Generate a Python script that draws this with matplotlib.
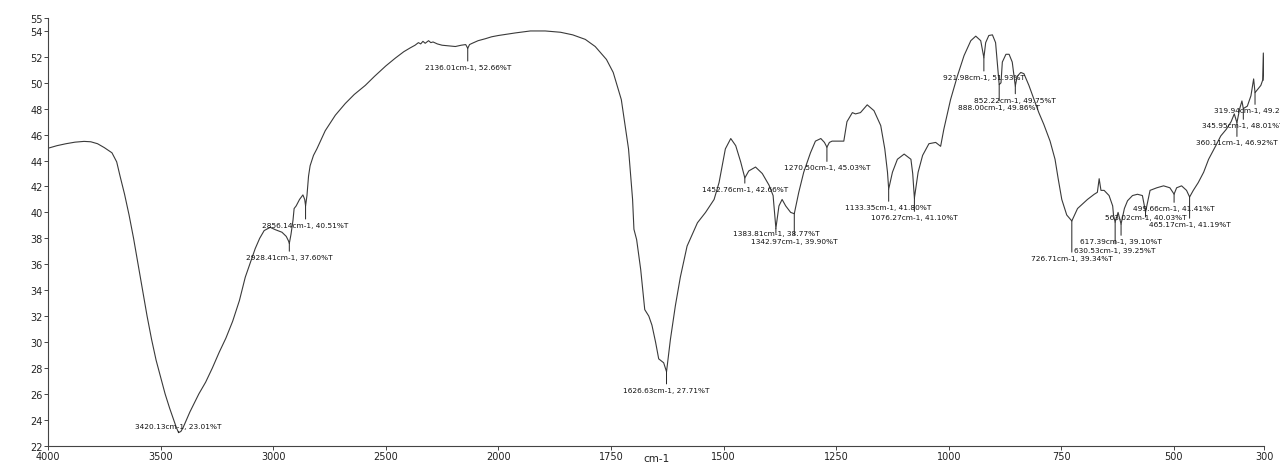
import matplotlib
matplotlib.use("Agg")
import matplotlib.pyplot as plt
import numpy as np

# FTIR transmittance spectrum (wavenumber in cm-1, %T)
wavenumber = [
    4000, 3960, 3920, 3880, 3840, 3810, 3780, 3750, 3716, 3695, 3680, 3660, 3640, 3620,
    3600, 3580, 3560, 3540, 3520, 3500, 3480, 3460, 3440, 3430, 3420.13, 3410, 3400, 3385,
    3370, 3350, 3330, 3300, 3270, 3240, 3210, 3180, 3150, 3124, 3100, 3080, 3060, 3040,
    3013, 2991, 2961, 2942, 2932, 2928.41, 2921, 2912, 2907, 2898, 2883, 2868, 2860, 2856.14,
    2850, 2843, 2836, 2821, 2806, 2769, 2724, 2680, 2640, 2591, 2550, 2500, 2458, 2420,
    2391, 2370, 2355, 2345, 2335, 2325, 2310, 2300, 2290, 2271, 2250, 2220, 2191, 2165,
    2145, 2136.01, 2128, 2116, 2090, 2058, 2030, 2000, 1962, 1929, 1896, 1862, 1835, 1807,
    1785, 1760, 1745, 1727, 1711, 1702, 1699, 1693, 1684, 1675, 1666, 1659, 1651, 1644,
    1633, 1626.63, 1618, 1607, 1596, 1581, 1558, 1540, 1521, 1510, 1503, 1496, 1484, 1473,
    1462, 1452.76, 1444, 1429, 1414, 1399, 1390, 1383.81, 1377, 1370, 1362, 1351, 1342.97, 1333,
    1322, 1307, 1296, 1284, 1276, 1270.50, 1265, 1259, 1248, 1233, 1226, 1214, 1207, 1196,
    1181, 1166, 1151, 1142, 1136, 1133.35, 1125, 1114, 1099, 1084, 1080, 1076.27, 1068, 1058,
    1044, 1029, 1018, 1011, 996, 981, 966, 951, 940, 929, 921.98, 918, 911, 903,
    896, 888.00, 884, 881, 873, 866, 859, 852.22, 848, 840, 833, 822, 811, 800,
    789, 775, 764, 757, 749, 738, 726.71, 714, 703, 692, 677, 670, 666, 662,
    655, 644, 636, 634, 630.53, 624, 617.39, 610, 603, 592, 581, 570, 563.02, 553,
    538, 523, 509, 499.66, 494, 483, 472, 465.17, 457, 446, 434, 423, 407, 396,
    384, 373, 366, 360.11, 354, 349, 345.95, 337, 329, 323, 319.94, 314, 307, 303,
    301.5, 300,
]
transmittance = [
    44.95, 45.15, 45.3, 45.42, 45.48, 45.45, 45.3, 45.0, 44.6, 43.9, 42.8, 41.4, 39.8, 38.0,
    36.0, 34.0, 32.0, 30.2, 28.6, 27.3, 26.0, 24.9, 23.9, 23.4, 23.01, 23.1, 23.4, 24.0,
    24.6, 25.3, 26.0, 26.9, 28.0, 29.2, 30.3, 31.6, 33.2, 35.0, 36.2, 37.2, 38.0, 38.6,
    38.85, 38.67, 38.47, 38.15, 37.8, 37.60, 38.3, 39.4, 40.3, 40.5, 41.0, 41.35, 41.0, 40.51,
    41.3, 42.8, 43.6, 44.4, 44.9, 46.3, 47.5, 48.4, 49.1, 49.8, 50.5, 51.3, 51.9, 52.4,
    52.7, 52.9, 53.1, 53.0, 53.2, 53.05, 53.25, 53.1, 53.15, 53.0, 52.9, 52.85, 52.8, 52.9,
    52.95, 52.66, 52.95, 53.05, 53.25, 53.4, 53.55, 53.65, 53.85, 54.0, 54.0, 53.9, 53.7, 53.35,
    52.8, 51.8, 50.8, 48.7, 44.9, 41.0, 38.7, 37.9, 35.6, 32.5, 32.0, 31.3, 30.0, 28.7,
    28.4, 27.71, 30.2, 32.8, 35.0, 37.4, 39.2, 40.0, 41.0, 42.3, 43.6, 44.9, 45.7, 45.15,
    43.9, 42.66, 43.2, 43.5, 43.0, 42.1, 41.3, 38.77, 40.5, 41.0, 40.5, 40.0, 39.90, 41.55,
    43.1, 44.6, 45.5, 45.7, 45.4, 45.03, 45.4, 45.5, 45.5, 45.5, 47.0, 47.7, 47.6, 47.7,
    48.3, 47.85, 46.7, 44.9, 43.1, 41.80, 43.1, 44.1, 44.5, 44.1, 43.0, 41.10, 43.1, 44.4,
    45.3, 45.4, 45.1, 46.4, 48.7, 50.5, 52.1, 53.25, 53.6, 53.25, 51.93, 53.1, 53.65, 53.7,
    53.1, 49.86, 50.0, 51.6, 52.2, 52.2, 51.6, 49.75, 50.5, 50.8, 50.7, 49.8, 48.75, 47.7,
    46.8, 45.5, 44.1, 42.6, 41.0, 39.8, 39.34, 40.3, 40.65, 41.0, 41.4, 41.55, 42.6, 41.7,
    41.7, 41.3, 40.5, 39.75, 39.25, 40.0, 39.10, 40.3, 40.9, 41.3, 41.4, 41.3, 40.03, 41.7,
    41.9, 42.05, 41.9, 41.41, 41.9, 42.05, 41.7, 41.19, 41.7, 42.3, 43.1, 44.1, 45.15, 45.9,
    46.4, 47.0, 47.6, 46.92, 48.0, 48.6, 48.01, 48.2, 49.0, 50.3, 49.24, 49.5, 49.8, 50.2,
    52.3, 50.2,
]

# picked peaks
peak_wn = [3420.13, 2928.41, 2856.14, 2136.01, 1626.63, 1452.76, 1383.81, 1342.97,
           1270.50, 1133.35, 1076.27, 921.98, 888.00, 852.22, 726.71, 630.53, 617.39,
           563.02, 499.66, 465.17, 360.11, 345.95, 319.94]
peak_t = [23.01, 37.60, 40.51, 52.66, 27.71, 42.66, 38.77, 39.90,
          45.03, 41.80, 41.10, 51.93, 49.86, 49.75, 39.34, 39.25, 39.10,
          40.03, 41.41, 41.19, 46.92, 48.01, 49.24]
# how far (pixels) each label hangs below its peak
label_drop = [-7, 13.5, 19, 18.5, 18, 11, 5, 27,
              20, 18, 19, 19, 22, 13.5, 37, 27.5, 17,
              5, 14, 27, 19.5, 16.5, 17.5]

xticks = [4000, 3500, 3000, 2500, 2000, 1750, 1500, 1250, 1000, 750, 500, 300]
yticks = list(range(22, 55, 2)) + [55]


def fwd(x):
    # region above 2000 cm-1 is drawn at half scale
    x = np.asarray(x, dtype=float)
    return np.where(x > 2000, 2000 + (x - 2000) / 2.0, x)


def inv(t):
    t = np.asarray(t, dtype=float)
    return np.where(t > 2000, 2000 + (t - 2000) * 2.0, t)


fig = plt.figure(figsize=(12.8, 4.64), dpi=100)
ax = fig.add_axes([48 / 1280, 17.3 / 464, 1216 / 1280, 427.7 / 464])
ax.set_xscale("function", functions=(fwd, inv))
ax.plot(wavenumber, transmittance, color="#3a3a3a", lw=0.8)
ax.set_xlim(4000, 300)
ax.set_ylim(22, 55)

ax.set_xticks(xticks)
ax.set_xticklabels([str(t) for t in xticks])
ax.set_yticks(yticks)
ax.minorticks_off()
ax.tick_params(axis="both", labelsize=7, length=3, width=0.7, color="#444444",
               labelcolor="#222222", pad=1)
for side in ["top", "right"]:
    ax.spines[side].set_visible(False)
for side in ["left", "bottom"]:
    ax.spines[side].set_color("#444444")
    ax.spines[side].set_linewidth(0.8)
ax.set_xlabel("cm-1", fontsize=7.5, color="#222222", va="center")
ax.xaxis.set_label_coords(0.5, -0.029)

for w, t, d in zip(peak_wn, peak_t, label_drop):
    ax.annotate("%.2fcm-1, %.2f%%T" % (w, t), xy=(w, t),
                xytext=(0, -d * 0.72), textcoords="offset points",
                ha="center", va="center", fontsize=5.3, color="#111111",
                annotation_clip=False,
                arrowprops=dict(arrowstyle="-", color="#222222", lw=0.7,
                                shrinkA=0, shrinkB=0))

fig.savefig("out.png", dpi=100)
